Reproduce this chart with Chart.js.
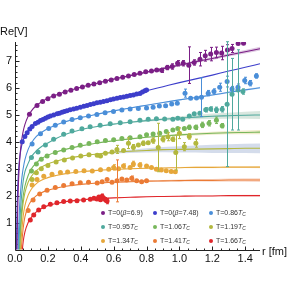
<!DOCTYPE html>
<html>
<head>
<meta charset="utf-8">
<script src="https://cdn.jsdelivr.net/npm/chart.js@4.4.1/dist/chart.umd.min.js"></script>
<style>
  html, body { margin: 0; padding: 0; background: #fff; }
  #wrap { width: 292px; height: 292px; }
</style>
</head>
<body>
<div id="wrap"><canvas id="potChart"></canvas></div>
<script>
// ---- data (r in fm, Re V) ----
const xTitle = 'r [fm]';
const yTitle = 'Re[V]';
const xTicks = [0, 0.2, 0.4, 0.6, 0.8, 1.0, 1.2, 1.4];
const yTicks = [1, 2, 3, 4, 5, 6, 7];

// legend labels, split into plain / italic / subscript pieces
const seriesNames = [
  [['T=0(', ''], ['β', 'i'], ['=6.9)', '']],
  [['T=0(', ''], ['β', 'i'], ['=7.48)', '']],
  [['T=0.86', ''], ['T', 'i'], ['C', 'sub']],
  [['T=0.95', ''], ['T', 'i'], ['C', 'sub']],
  [['T=1.06', ''], ['T', 'i'], ['C', 'sub']],
  [['T=1.19', ''], ['T', 'i'], ['C', 'sub']],
  [['T=1.34', ''], ['T', 'i'], ['C', 'sub']],
  [['T=1.41', ''], ['T', 'i'], ['C', 'sub']],
  [['T=1.66', ''], ['T', 'i'], ['C', 'sub']]
];

// lattice points
const rB69 = [0.088,0.134,0.168,0.2,0.235,0.27,0.305,0.34,0.375,0.41,0.445,0.48,0.515,0.55,0.585,0.62,0.655,0.69,0.725,0.76,0.795,0.83,0.862,0.892,0.926,0.956,0.989,1.023,1.057,1.09,1.125,1.157,1.19,1.225,1.257,1.292,1.32,1.357,1.39];
const vB69 = [5.03,5.35,5.5,5.6,5.7,5.77,5.85,5.92,5.98,6.04,6.1,6.15,6.2,6.25,6.3,6.35,6.4,6.45,6.5,6.55,6.6,6.63,6.67,6.66,6.76,6.8,6.92,6.92,6.85,6.95,7.07,7.2,7.26,7.32,7.3,7.41,7.47,7.65,7.66];
const eB69 = [0.02,0.02,0.02,0.02,0.02,0.02,0.02,0.02,0.02,0.02,0.02,0.02,0.02,0.02,0.02,0.02,0.03,0.03,0.03,0.03,0.03,0.05,0.06,0.08,0.08,0.1,0.1,0.1,0.68,0.1,0.25,0.2,0.25,0.2,0.25,0.2,0.15,0.06,0.05];

const rB748 = [0.044,0.06,0.074,0.09,0.104,0.124,0.14,0.155,0.17,0.185,0.2,0.215,0.235,0.256,0.27,0.286,0.3,0.316,0.335,0.356,0.375,0.397,0.418,0.438,0.458,0.478,0.498,0.518,0.538,0.559,0.58,0.599,0.62,0.64,0.66,0.68,0.7,0.72,0.74,0.76,0.775,0.79,0.8];
const vB748 = [4.0,4.2,4.34,4.48,4.57,4.68,4.73,4.79,4.83,4.88,4.92,4.96,5.0,5.04,5.06,5.1,5.13,5.16,5.19,5.22,5.25,5.29,5.32,5.35,5.39,5.42,5.45,5.47,5.5,5.53,5.56,5.59,5.62,5.65,5.67,5.69,5.72,5.74,5.78,5.8,5.85,5.9,5.93];
const eB748 = [0.02,0.02,0.02,0.02,0.02,0.02,0.02,0.02,0.02,0.02,0.02,0.02,0.02,0.02,0.02,0.02,0.02,0.02,0.02,0.02,0.02,0.02,0.02,0.02,0.02,0.02,0.02,0.02,0.02,0.02,0.02,0.02,0.03,0.03,0.03,0.03,0.03,0.04,0.04,0.05,0.05,0.06,0.06];

const rT086 = [0.104,0.155,0.205,0.245,0.296,0.347,0.397,0.447,0.498,0.548,0.599,0.65,0.7,0.75,0.8,0.84,0.878,0.916,0.953,0.987,1.034,1.068,1.104,1.134,1.175,1.21,1.245,1.29,1.32,1.356,1.397,1.43,1.468];
const vT086 = [3.92,4.3,4.5,4.62,4.74,4.83,4.9,4.96,5.02,5.08,5.13,5.18,5.22,5.24,5.26,5.29,5.33,5.34,5.41,5.43,5.81,5.62,5.63,5.66,5.81,5.87,6.03,6.24,5.96,6.03,6.28,6.18,6.45];
const eT086 = [0.02,0.02,0.02,0.02,0.02,0.02,0.02,0.02,0.02,0.02,0.02,0.02,0.03,0.03,0.04,0.05,0.05,0.05,0.06,0.06,0.15,0.06,0.06,0.72,0.1,0.1,0.15,0.2,0.1,0.12,0.12,0.1,0.08];

const rT095 = [0.1,0.14,0.185,0.235,0.296,0.347,0.407,0.457,0.518,0.579,0.64,0.7,0.76,0.81,0.86,0.91,0.96,0.99,1.02,1.06,1.09,1.124,1.16,1.19,1.225,1.26,1.29,1.32,1.356,1.386];
const vT095 = [3.42,3.62,3.88,4.1,4.28,4.4,4.49,4.56,4.62,4.67,4.71,4.75,4.8,4.84,4.86,4.85,4.84,4.88,4.84,4.96,5.04,5.06,5.19,5.22,5.19,5.21,5.4,5.77,5.93,5.87];
const eT095 = [0.02,0.02,0.02,0.02,0.02,0.02,0.02,0.02,0.02,0.02,0.02,0.02,0.03,0.03,0.03,0.03,0.04,0.05,0.05,0.06,0.06,0.07,0.08,0.08,0.1,0.1,2.32,1.33,1.49,0.1];

const rT106 = [0.1,0.13,0.16,0.195,0.245,0.296,0.347,0.397,0.45,0.5,0.55,0.6,0.65,0.7,0.76,0.8,0.84,0.88,0.92,0.96,0.99,1.03,1.06,1.1,1.14,1.18,1.225,1.26];
const vT106 = [2.92,3.18,3.35,3.47,3.6,3.7,3.79,3.87,3.94,4.0,4.05,4.08,4.12,4.15,4.19,4.26,4.29,4.32,4.38,4.44,4.5,4.5,4.54,4.54,4.63,4.69,4.8,4.6];
const eT106 = [0.02,0.02,0.02,0.02,0.02,0.02,0.02,0.02,0.02,0.02,0.02,0.02,0.02,0.03,0.03,0.03,0.04,0.04,0.05,0.05,0.06,0.06,0.08,0.08,0.1,0.1,0.12,0.08];

const rT119 = [0.104,0.13,0.16,0.2,0.25,0.3,0.35,0.4,0.45,0.5,0.52,0.55,0.59,0.62,0.66,0.69,0.72,0.75,0.78,0.81,0.84,0.871,0.9,0.93,0.96,0.978,1.0,1.03,1.06,1.1];
const vT119 = [2.6,2.85,3.0,3.12,3.25,3.33,3.4,3.47,3.52,3.5,3.47,3.58,3.62,3.72,3.68,3.95,3.8,3.88,3.95,3.97,4.05,3.79,4.1,4.19,4.1,3.6,4.32,3.82,4.2,3.95];
const eT119 = [0.02,0.02,0.02,0.02,0.02,0.02,0.02,0.02,0.02,0.03,0.05,0.04,0.05,0.15,0.06,0.2,0.1,0.06,0.08,0.06,0.1,0.9,0.1,0.15,0.08,0.65,0.2,0.15,0.1,0.15];

const rT134 = [0.104,0.134,0.175,0.225,0.276,0.32,0.37,0.42,0.47,0.52,0.57,0.6,0.63,0.66,0.7,0.72,0.76,0.8,0.83,0.86,0.89,0.92,0.95,0.975];
const vT134 = [2.4,2.6,2.72,2.8,2.86,2.88,2.9,2.93,2.92,2.96,2.98,3.05,3.0,3.1,3.05,3.18,3.14,3.1,3.05,2.98,2.95,2.93,2.9,2.89];
const eT134 = [0.02,0.02,0.02,0.02,0.02,0.02,0.03,0.03,0.03,0.03,0.04,0.1,0.05,0.08,0.05,0.1,0.08,0.06,0.05,0.05,0.04,0.04,0.05,0.05];

const rT141 = [0.08,0.11,0.15,0.195,0.245,0.296,0.347,0.397,0.447,0.5,0.53,0.56,0.59,0.62,0.65,0.68,0.71,0.74,0.77,0.8];
const vT141 = [1.45,1.84,2.06,2.2,2.3,2.38,2.44,2.48,2.5,2.47,2.52,2.6,2.5,2.55,2.62,2.58,2.65,2.55,2.52,2.55];
const eT141 = [0.02,0.02,0.02,0.02,0.02,0.02,0.02,0.02,0.02,0.04,0.05,0.06,0.05,0.78,0.05,0.06,0.08,0.06,0.05,0.05];

const rT166 = [0.093,0.114,0.144,0.175,0.215,0.255,0.296,0.336,0.377,0.417,0.458,0.48,0.498,0.51,0.52,0.53,0.54,0.55,0.56];
const vT166 = [1.1,1.28,1.47,1.59,1.68,1.74,1.78,1.8,1.81,1.84,1.87,1.9,1.88,1.95,1.85,1.98,1.9,1.85,1.8];
const eT166 = [0.02,0.02,0.02,0.02,0.02,0.02,0.02,0.02,0.02,0.02,0.03,0.05,0.05,0.06,0.06,0.08,0.06,0.08,0.1];

// fitted curves, sampled on a common r grid
const fitR = [0.008,0.01,0.012,0.015,0.02,0.025,0.03,0.035,0.04,0.045,0.05,0.06,0.08,0.1,0.13,0.16,0.2,0.25,0.3,0.4,0.5,0.6,0.7,0.8,0.9,1.0,1.1,1.2,1.3,1.4,1.49];
const fitB69  = [-2.9,-1.17,-0.02,1.14,2.29,2.99,3.46,3.79,4.04,4.24,4.40,4.64,4.95,5.15,5.35,5.48,5.62,5.74,5.85,6.03,6.18,6.33,6.46,6.59,6.72,6.85,6.98,7.10,7.23,7.35,7.46];
const fitB748 = [-0.41,0.64,1.35,2.05,2.76,3.19,3.47,3.68,3.84,3.96,4.06,4.21,4.42,4.55,4.69,4.79,4.90,5.01,5.11,5.29,5.45,5.61,5.76,5.90,6.05,6.20,6.34,6.48,6.63,6.77,6.90];
const fitT086 = [-6.5,-4.2,-2.7,-1.21,0.29,1.20,1.80,2.23,2.56,2.82,3.02,3.33,3.72,3.96,4.20,4.35,4.50,4.63,4.74,4.90,5.03,5.15,5.26,5.36,5.46,5.56,5.65,5.74,5.84,5.93,6.01];
const fitT095 = [-5,-4,-3.2,-2,-0.6,0.4,1.1,1.6,2.0,2.3,2.55,2.88,3.2,3.45,3.67,3.82,3.96,4.12,4.26,4.45,4.57,4.66,4.73,4.79,4.84,4.88,4.92,4.95,4.97,4.99,5.0];
const fitT106 = [-5,-4.5,-4,-3,-1.6,-0.5,0.4,1.0,1.45,1.75,2.0,2.35,2.75,3.0,3.22,3.37,3.5,3.62,3.71,3.85,3.96,4.04,4.11,4.17,4.22,4.26,4.29,4.32,4.34,4.35,4.36];
const fitT119 = [-5,-5,-4.5,-3.5,-2,-0.8,0.1,0.7,1.15,1.5,1.75,2.1,2.5,2.72,2.93,3.06,3.18,3.28,3.36,3.47,3.55,3.61,3.65,3.68,3.71,3.72,3.73,3.74,3.75,3.76,3.76];
const fitT134 = [-6,-5.5,-5,-4,-2.8,-1.5,-0.5,0.15,0.6,0.95,1.25,1.62,2.02,2.25,2.45,2.57,2.67,2.75,2.81,2.89,2.94,2.97,3.0,3.02,3.03,3.04,3.05,3.05,3.06,3.06,3.06];
const fitT141 = [-6,-5.5,-5,-4.5,-3.5,-2.2,-1.2,-0.4,0.15,0.5,0.8,1.2,1.6,1.82,2.0,2.11,2.2,2.28,2.34,2.42,2.47,2.5,2.52,2.54,2.55,2.56,2.57,2.57,2.58,2.58,2.58];
const fitT166 = [-7,-6.5,-6,-5,-4,-3,-2.2,-1.5,-0.5,0.0,0.3,0.65,1.0,1.2,1.4,1.52,1.63,1.71,1.77,1.84,1.89,1.92,1.94,1.96,1.97,1.98,1.99,1.99,2.0,2.0,2.0];

// half-width of the fit error bands, from r = 0.4 on (fitR index 19..30)
const bandStart = 19;
const bandB69  = [0.015,0.02,0.025,0.03,0.035,0.04,0.045,0.05,0.055,0.06,0.065,0.07];
const bandB748 = [0,0,0,0,0,0,0,0,0,0,0,0];
const bandT086 = [0.01,0.01,0.015,0.015,0.02,0.02,0.025,0.025,0.03,0.03,0.035,0.035];
const bandT095 = [0.005,0.01,0.02,0.03,0.04,0.05,0.07,0.08,0.1,0.11,0.13,0.15];
const bandT106 = [0.005,0.01,0.015,0.02,0.03,0.035,0.04,0.05,0.055,0.06,0.07,0.08];
const bandT119 = [0.01,0.02,0.04,0.06,0.08,0.1,0.12,0.13,0.15,0.16,0.17,0.18];
const bandT134 = [0.005,0.01,0.01,0.015,0.02,0.02,0.025,0.03,0.03,0.035,0.035,0.04];
const bandT141 = [0.01,0.015,0.02,0.025,0.03,0.035,0.04,0.045,0.05,0.06,0.065,0.07];
const bandT166 = [0.005,0.01,0.01,0.015,0.015,0.02,0.02,0.02,0.025,0.025,0.03,0.03];

// ---- styling ----
const colors = ['#7b1f86', '#3d3ecb', '#4a8ed8', '#4fa99d', '#78b75c', '#b3b83e', '#e6a73a', '#eb7b35', '#e0262b'];
const bandColors = [
  'rgba(150,80,160,0.30)', 'rgba(60,60,200,0.0)', 'rgba(120,170,225,0.30)',
  'rgba(160,195,175,0.40)', 'rgba(225,215,150,0.50)', 'rgba(170,185,215,0.50)',
  'rgba(240,205,140,0.40)', 'rgba(240,170,140,0.45)', 'rgba(240,150,150,0.35)'
];
const FONT = '"Liberation Sans", Arial, Helvetica, sans-serif';

const series = [
  { r: rB69,  v: vB69,  e: eB69,  fit: fitB69,  band: bandB69 },
  { r: rB748, v: vB748, e: eB748, fit: fitB748, band: bandB748 },
  { r: rT086, v: vT086, e: eT086, fit: fitT086, band: bandT086 },
  { r: rT095, v: vT095, e: eT095, fit: fitT095, band: bandT095 },
  { r: rT106, v: vT106, e: eT106, fit: fitT106, band: bandT106 },
  { r: rT119, v: vT119, e: eT119, fit: fitT119, band: bandT119 },
  { r: rT134, v: vT134, e: eT134, fit: fitT134, band: bandT134 },
  { r: rT141, v: vT141, e: eT141, fit: fitT141, band: bandT141 },
  { r: rT166, v: vT166, e: eT166, fit: fitT166, band: bandT166 }
];

const datasets = [];
series.forEach((s, i) => {
  datasets.push({
    type: 'scatter',
    data: s.r.map((r, k) => ({ x: r, y: s.v[k] })),
    errors: s.e,
    backgroundColor: colors[i],
    borderWidth: 0,
    pointRadius: 2.5,
    pointHoverRadius: 2.5,
    order: 0
  });
  datasets.push({
    type: 'line',
    data: fitR.map((r, k) => ({ x: r, y: s.fit[k] })),
    borderColor: colors[i],
    borderWidth: 1.1,
    pointRadius: 0,
    fill: false,
    cubicInterpolationMode: 'monotone',
    order: 1
  });
  const tail = fitR.slice(bandStart);
  datasets.push({
    type: 'line',
    data: tail.map((r, k) => ({ x: r, y: s.fit[bandStart + k] + s.band[k] })),
    borderColor: 'transparent',
    borderWidth: 0,
    pointRadius: 0,
    fill: false,
    order: 2
  });
  datasets.push({
    type: 'line',
    data: tail.map((r, k) => ({ x: r, y: s.fit[bandStart + k] - s.band[k] })),
    borderColor: 'transparent',
    backgroundColor: bandColors[i],
    borderWidth: 0,
    pointRadius: 0,
    fill: '-1',
    order: 2
  });
});

/* =============================
   PLUGINS
============================= */
const errorBars = {
  id: 'errorBars',
  afterDatasetsDraw(chart) {
    const { ctx, scales: { x, y } } = chart;
    ctx.save();
    ctx.lineWidth = 1;
    chart.data.datasets.forEach(ds => {
      if (!ds.errors) return;
      ctx.strokeStyle = ds.backgroundColor;
      ds.data.forEach((p, k) => {
        const e = ds.errors[k];
        const px = Math.round(x.getPixelForValue(p.x)) + 0.5;
        const top = y.getPixelForValue(p.y + e);
        const bot = y.getPixelForValue(p.y - e);
        if (bot - top < 4) return;
        ctx.beginPath();
        ctx.moveTo(px, top); ctx.lineTo(px, bot);
        ctx.moveTo(px - 1.5, top); ctx.lineTo(px + 1.5, top);
        ctx.moveTo(px - 1.5, bot); ctx.lineTo(px + 1.5, bot);
        ctx.stroke();
      });
    });
    ctx.restore();
  }
};

const axesPlugin = {
  id: 'axesPlugin',
  beforeDatasetsDraw(chart) {
    const { ctx, chartArea: a, scales: { x, y } } = chart;
    const x0 = Math.round(x.getPixelForValue(0)) + 0.5;
    const y0 = Math.round(y.getPixelForValue(0)) + 0.5;
    ctx.save();
    ctx.strokeStyle = '#222';
    ctx.lineWidth = 1;
    ctx.beginPath();
    ctx.moveTo(x0, y0); ctx.lineTo(a.right, y0);
    ctx.moveTo(x0, y0); ctx.lineTo(x0, a.top);
    // y ticks: major at integers, minor every 0.2
    for (let k = 1; k * 0.2 <= y.max; k++) {
      const py = Math.round(y.getPixelForValue(k * 0.2)) + 0.5;
      const len = k % 5 === 0 ? 4 : 2;
      ctx.moveTo(x0, py); ctx.lineTo(x0 + len, py);
    }
    // x ticks: major every 0.2, minor every 0.05
    for (let k = 1; k * 0.05 <= x.max; k++) {
      const px = Math.round(x.getPixelForValue(k * 0.05)) + 0.5;
      const len = k % 4 === 0 ? 4 : 2;
      ctx.moveTo(px, y0); ctx.lineTo(px, y0 - len);
    }
    ctx.stroke();

    ctx.fillStyle = '#111';
    ctx.font = `11px ${FONT}`;
    ctx.textBaseline = 'middle';
    ctx.textAlign = 'left';
    ctx.fillText(yTitle, 0, a.top - 10);
    ctx.fillText(xTitle, a.right + 2, y0 + 1);
    ctx.restore();
  }
};

const tempLegend = {
  id: 'tempLegend',
  afterDraw(chart) {
    const ctx = chart.ctx;
    const colX = [103, 155, 211];
    const rowY = [213, 227, 241];
    ctx.save();
    ctx.textBaseline = 'middle';
    ctx.textAlign = 'left';
    seriesNames.forEach((parts, i) => {
      const cx = colX[i % 3];
      const cy = rowY[Math.floor(i / 3)];
      ctx.fillStyle = colors[i];
      ctx.beginPath();
      ctx.arc(cx, cy, 2, 0, Math.PI * 2);
      ctx.fill();
      let tx = cx + 5;
      ctx.fillStyle = '#333';
      parts.forEach(([txt, style]) => {
        let size = 7, dy = 0, st = '';
        if (style === 'i') st = 'italic ';
        if (style === 'sub') { st = 'italic '; size = 5; dy = 1.8; }
        ctx.font = `${st}${size}px ${FONT}`;
        ctx.fillText(txt, tx, cy + dy);
        tx += ctx.measureText(txt).width;
      });
    });
    ctx.restore();
  }
};

new Chart(document.getElementById('potChart'), {
  type: 'scatter',
  data: { datasets },
  options: {
    responsive: true,
    maintainAspectRatio: false,
    animation: false,
    devicePixelRatio: 1,
    events: [],
    layout: { padding: { top: 42, right: 32, bottom: 0, left: 0 } },
    plugins: { legend: { display: false }, tooltip: { enabled: false } },
    scales: {
      x: {
        type: 'linear', min: 0, max: 1.49,
        grid: { display: false, drawTicks: false },
        border: { display: false },
        afterBuildTicks: s => { s.ticks = xTicks.map(v => ({ value: v })); },
        ticks: {
          callback: v => v.toFixed(1),
          font: { family: FONT, size: 11 }, color: '#111',
          padding: 3, maxRotation: 0, autoSkip: false
        },
        afterFit: s => { s.height = 42.5; }
      },
      y: {
        type: 'linear', min: 0, max: 7.71,
        grid: { display: false, drawTicks: false },
        border: { display: false },
        afterBuildTicks: s => { s.ticks = yTicks.map(v => ({ value: v })); },
        ticks: {
          font: { family: FONT, size: 11 }, color: '#111',
          padding: 3, autoSkip: false
        },
        afterFit: s => { s.width = 15; }
      }
    }
  },
  plugins: [axesPlugin, errorBars, tempLegend]
});
</script>
</body>
</html>
